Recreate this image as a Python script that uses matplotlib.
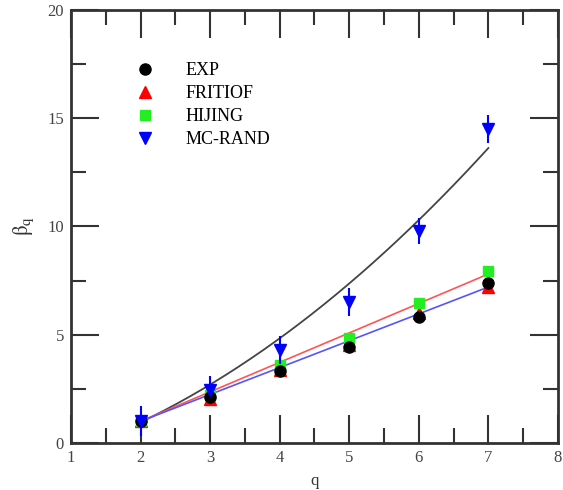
import numpy as np
import matplotlib.pyplot as plt
from matplotlib.lines import Line2D

plt.rcParams['font.family'] = ['Liberation Serif', 'DejaVu Serif']
plt.rcParams['mathtext.fontset'] = 'stix'

# data
q = np.array([2, 3, 4, 5, 6, 7])
exp_b = [1.0, 2.1, 3.3, 4.45, 5.8, 7.4]
fritiof_b = [1.0, 2.05, 3.35, 4.5, 6.0, 7.2]
hijing_b = [1.0, 2.2, 3.6, 4.85, 6.45, 7.95]
mcrand_b = [1.0, 2.45, 4.3, 6.5, 9.8, 14.5]
mcrand_err = [0.7, 0.65, 0.65, 0.65, 0.6, 0.65]
exp_err = [0.2, 0.2, 0.2, 0.2, 0.2, 0.2]

# fitted curves at q = 2..7
fit_mc = [1.0, 2.6, 4.85, 7.4, 10.3, 13.6]
fit_red = [1.0, 2.36, 3.72, 5.08, 6.44, 7.8]
fit_blue = [1.0, 2.24, 3.48, 4.72, 5.96, 7.2]

fig = plt.figure(figsize=(5.63, 4.90), dpi=100)
ax = fig.add_axes([0.126, 0.096, 0.865, 0.884])

qq = np.linspace(2, 7, 200)
ax.plot(qq, np.polyval(np.polyfit(q, fit_mc, 2), qq), color='#444444', lw=1.3)
ax.plot(q, fit_red, color='#ff5555', lw=1.2)
ax.plot(q, fit_blue, color='#5555ff', lw=1.2)

ax.errorbar(q, exp_b, yerr=exp_err, fmt='o', color='black', ms=8, elinewidth=1.2, capsize=0)
ax.plot(q, fritiof_b, '^', color='red', ms=8)
ax.plot(q, hijing_b, 's', color='#22ee22', ms=7)
ax.errorbar(q, mcrand_b, yerr=mcrand_err, fmt='v', color='blue', ms=8, elinewidth=1.5, capsize=0)

ax.set_xlim(1, 8)
ax.set_ylim(0, 20)
ax.set_xticks(range(1, 9))
ax.set_xticks(np.arange(1.5, 8, 1), minor=True)
ax.set_yticks(range(0, 21, 5))
ax.set_yticks(np.arange(2.5, 20, 5), minor=True)
ax.tick_params(which='major', direction='in', length=20, width=1.5, color='#333333',
               top=True, right=True, labelsize=12, labelcolor='#444444', pad=5)
ax.tick_params(which='minor', direction='in', length=11, width=1.5, color='#333333',
               top=True, right=True)
for s in ax.spines.values():
    s.set_linewidth(2)
    s.set_color('#333333')

ax.set_xlabel('q', fontsize=12, color='#333333', labelpad=5)
ax.set_ylabel(r'$\mathrm{\beta_q}$', fontsize=15, color='#333333', labelpad=8)

handles = [
    Line2D([], [], marker='o', color='black', ls='none', ms=8),
    Line2D([], [], marker='^', color='red', ls='none', ms=8),
    Line2D([], [], marker='s', color='#22ee22', ls='none', ms=7),
    Line2D([], [], marker='v', color='blue', ls='none', ms=8),
]
ax.legend(handles, ['EXP', 'FRITIOF', 'HIJING', 'MC-RAND'], loc='upper left',
          bbox_to_anchor=(0.101, 0.917), frameon=False, fontsize=13,
          handlelength=1, handletextpad=1.7, labelspacing=0.33)

fig.savefig('out.png', dpi=100)
